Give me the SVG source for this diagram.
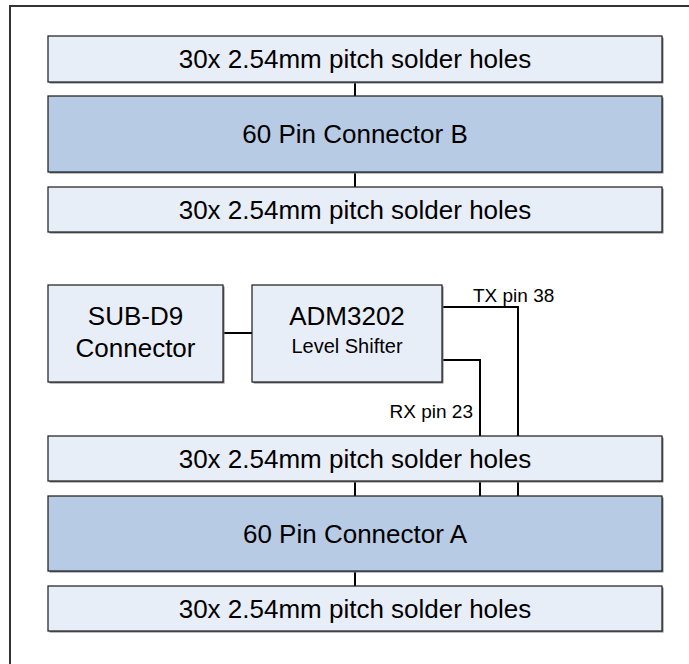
<svg xmlns="http://www.w3.org/2000/svg" width="689" height="664" viewBox="0 0 689 664">
<defs>
<style>
.frame{fill:none;stroke:#333;stroke-width:2}
.shadow{fill:#7f7f7f}
.light{fill:#E8EEF8;stroke:#1a1a1a;stroke-width:1.2}
.dark{fill:#B8CBE4;stroke:#1a1a1a;stroke-width:1.2}
.wire{fill:none;stroke:#000;stroke-width:2}
text{font-family:"Liberation Sans",Arial,sans-serif;fill:#000;text-anchor:middle}
.big{font-size:26px}
.small{font-size:20px}
.lbl{font-size:19px}
</style>
</defs>
<rect width="689" height="664" fill="#fff"/>
<path class="frame" d="M10,680 V6 H700"/>
<g id="connectors">
<path class="wire" d="M355,82 V96"/>
<path class="wire" d="M355,172 V187"/>
<path class="wire" d="M223,333 H252"/>
<path class="wire" d="M442,307 H518 V436"/>
<path class="wire" d="M442,360 H480 V436"/>
<path class="wire" d="M355,481 V496"/>
<path class="wire" d="M480,481 V496"/>
<path class="wire" d="M518,481 V496"/>
<path class="wire" d="M355,571 V586"/>
<text class="lbl" x="473" y="302" style="text-anchor:start">TX pin 38</text>
<text class="lbl" x="473" y="418" style="text-anchor:end">RX pin 23</text>
</g>
<g id="holesB-top">
<rect class="shadow" x="49.5" y="37.5" width="614" height="46"/>
<rect class="light" x="48" y="36" width="614" height="46"/>
<text class="big" x="355" y="68">30x 2.54mm pitch solder holes</text>
</g>
<g id="connectorB">
<rect class="shadow" x="49.5" y="97.5" width="614" height="76"/>
<rect class="dark" x="48" y="96" width="614" height="76"/>
<text class="big" x="355" y="143">60 Pin Connector B</text>
</g>
<g id="holesB-bottom">
<rect class="shadow" x="49.5" y="188.5" width="614" height="45"/>
<rect class="light" x="48" y="187" width="614" height="45"/>
<text class="big" x="355" y="219">30x 2.54mm pitch solder holes</text>
</g>
<g id="subd9">
<rect class="shadow" x="49.5" y="286.5" width="175" height="97"/>
<rect class="light" x="48" y="285" width="175" height="97"/>
<text class="big" x="135.5" y="325">SUB-D9</text>
<text class="big" x="135.5" y="357">Connector</text>
</g>
<g id="adm3202">
<rect class="shadow" x="253.5" y="286.5" width="190" height="97"/>
<rect class="light" x="252" y="285" width="190" height="97"/>
<text class="big" x="347" y="325">ADM3202</text>
<text class="small" x="347" y="353">Level Shifter</text>
</g>
<g id="holesA-top">
<rect class="shadow" x="49.5" y="437.5" width="614" height="45"/>
<rect class="light" x="48" y="436" width="614" height="45"/>
<text class="big" x="355" y="468">30x 2.54mm pitch solder holes</text>
</g>
<g id="connectorA">
<rect class="shadow" x="49.5" y="497.5" width="614" height="75"/>
<rect class="dark" x="48" y="496" width="614" height="75"/>
<text class="big" x="355" y="543">60 Pin Connector A</text>
</g>
<g id="holesA-bottom">
<rect class="shadow" x="49.5" y="587.5" width="614" height="45"/>
<rect class="light" x="48" y="586" width="614" height="45"/>
<text class="big" x="355" y="618">30x 2.54mm pitch solder holes</text>
</g>
</svg>
